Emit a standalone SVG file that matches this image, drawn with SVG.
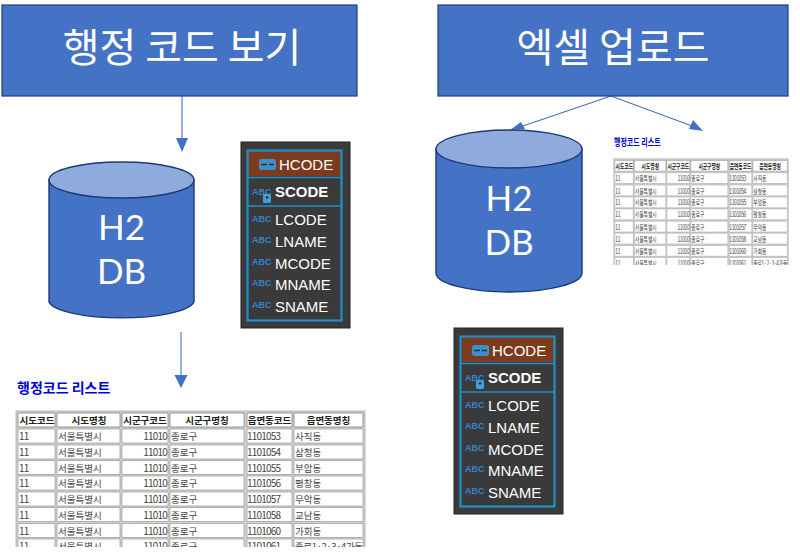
<svg xmlns="http://www.w3.org/2000/svg" width="800" height="556" viewBox="0 0 800 556">
<defs>
<style>
text{font-family:"Noto Sans CJK KR","Noto Sans",sans-serif}
.box{fill:#4472c4;stroke:#1f3f7f;stroke-width:1.2}
.bt{fill:#fff;font-size:40px;text-anchor:middle}
.cy{fill:#4472c4;stroke:#1a3a78;stroke-width:1.4}
.cyt{fill:#8faadc;stroke:#1a3a78;stroke-width:1.4}
.ct{fill:#fff;font-size:35px;text-anchor:middle;font-family:Lato,sans-serif}
.p{fill:#3a3a3a;stroke:#222;stroke-width:1}
.pb{fill:none;stroke:#1f8fc8;stroke-width:2.2}
.pl{stroke:#1f8fc8;stroke-width:1.6}
.pt{fill:#fff;font-size:15px;font-family:"Liberation Sans",sans-serif}
.ptb{fill:#fff;font-size:15px;font-weight:bold;font-family:"Liberation Sans",sans-serif}
.abc{fill:#2f85cc;font-size:9px;font-weight:bold;font-family:"Liberation Sans",sans-serif}
.ttl{fill:#0000dd;font-size:14px;font-weight:bold}
.tb{fill:#d2d2d2;stroke:#aaa;stroke-width:.8}
.h{fill:#fff;stroke:#777;stroke-width:.7}
.c{fill:#fff;stroke:#999;stroke-width:.7}
.th{font-size:9.5px;font-weight:bold;fill:#222;text-anchor:middle}
.td{font-size:9.5px;fill:#444}
.m{font-size:10px;fill:#444;letter-spacing:-.8px}
.n{font-size:10px;fill:#444;text-anchor:end;letter-spacing:-.8px}
.con{stroke:#4472c4;stroke-width:1.1;fill:none}
.hd{fill:#3f72c0}
</style>
<clipPath id="ct1"><rect x="0" y="405" width="380" height="142"/></clipPath>
<clipPath id="ct2"><rect x="605" y="155" width="190" height="110"/></clipPath>
</defs>
<rect width="800" height="556" fill="#fff"/>

<g id="connectors">
<path class="con" d="M182 96V140"/><path class="hd" d="M176 138H188L182 152Z"/>
<path class="con" d="M181 332V376"/><path class="hd" d="M174.500 375H187.500L181 388Z"/>
<path class="con" d="M611 96L520 127"/><path class="hd" d="M510 130L521 122L525 129Z"/>
<path class="con" d="M611 96L692 126"/><path class="hd" d="M703 131L689 129L693 120Z"/>
</g>

<g id="box-view"><rect class="box" x="2" y="5" width="355" height="91"/><text class="bt" x="182" y="62">행정 코드 보기</text></g>
<g id="box-upload"><rect class="box" x="438" y="5" width="350" height="91"/><text class="bt" x="613" y="62">엑셀 업로드</text></g>

<g id="db-left">
<path class="cy" d="M49 180V302A73 18 0 0 0 194 302V180Z"/>
<ellipse class="cyt" cx="121.500" cy="180" rx="72.500" ry="18"/>
<text class="ct" x="121.500" y="240">H2</text><text class="ct" x="121.500" y="284">DB</text>
</g>
<g id="db-right">
<path class="cy" d="M436 149V273A73 19 0 0 0 582 273V149Z"/>
<ellipse class="cyt" cx="509" cy="149" rx="73" ry="19"/>
<text class="ct" x="509" y="211">H2</text><text class="ct" x="509" y="255">DB</text>
</g>

<g id="schema-left">
<rect class="p" x="241" y="142" width="109" height="186"/>
<rect x="248" y="151" width="93" height="25" fill="#7a3b1e"/>
<rect class="pb" x="247.500" y="150.500" width="94" height="170"/>
<path class="pl" d="M248 177.500H341M248 206H341"/>
<rect x="259" y="159" width="17" height="11" rx="2.500" fill="#3f8fc8"/><path d="M261 164.500H267M269 164.500H274" stroke="#234" stroke-width="1.500"/>
<text class="pt" x="279" y="170">HCODE</text>
<text class="abc" x="252" y="195">ABC</text><rect x="263" y="194" width="8" height="9" rx="1.500" fill="#3f9fd8"/><circle cx="267" cy="197.500" r="1.200" fill="#123"/>
<text class="ptb" x="275" y="197">SCODE</text>
<text class="abc" x="252" y="222">ABC</text><text class="pt" x="275" y="225">LCODE</text>
<text class="abc" x="252" y="243">ABC</text><text class="pt" x="275" y="247">LNAME</text>
<text class="abc" x="252" y="265">ABC</text><text class="pt" x="275" y="269">MCODE</text>
<text class="abc" x="252" y="286">ABC</text><text class="pt" x="275" y="290">MNAME</text>
<text class="abc" x="252" y="308">ABC</text><text class="pt" x="275" y="312">SNAME</text>
</g>

<g id="schema-right" transform="translate(213 186)">
<rect class="p" x="241" y="142" width="109" height="186"/>
<rect x="248" y="151" width="93" height="25" fill="#7a3b1e"/>
<rect class="pb" x="247.500" y="150.500" width="94" height="170"/>
<path class="pl" d="M248 177.500H341M248 206H341"/>
<rect x="259" y="159" width="17" height="11" rx="2.500" fill="#3f8fc8"/><path d="M261 164.500H267M269 164.500H274" stroke="#234" stroke-width="1.500"/>
<text class="pt" x="279" y="170">HCODE</text>
<text class="abc" x="252" y="195">ABC</text><rect x="263" y="194" width="8" height="9" rx="1.500" fill="#3f9fd8"/><circle cx="267" cy="197.500" r="1.200" fill="#123"/>
<text class="ptb" x="275" y="197">SCODE</text>
<text class="abc" x="252" y="222">ABC</text><text class="pt" x="275" y="225">LCODE</text>
<text class="abc" x="252" y="243">ABC</text><text class="pt" x="275" y="247">LNAME</text>
<text class="abc" x="252" y="265">ABC</text><text class="pt" x="275" y="269">MCODE</text>
<text class="abc" x="252" y="286">ABC</text><text class="pt" x="275" y="290">MNAME</text>
<text class="abc" x="252" y="308">ABC</text><text class="pt" x="275" y="312">SNAME</text>
</g>

<g id="title-left"><text class="ttl" x="17" y="393">행정코드 리스트</text></g>
<g id="table-left" clip-path="url(#ct1)">
<rect class="tb" x="16" y="411" width="349" height="150"/>
<path class="h" d="M18 413H55V427H18ZM57 413H120V427H57ZM122 413H168V427H122ZM170 413H244V427H170ZM247 413H292V427H247ZM294 413H363V427H294Z"/>
<path class="c" d="M18 429H55V443H18ZM57 429H120V443H57ZM122 429H168V443H122ZM170 429H244V443H170ZM247 429H292V443H247ZM294 429H363V443H294Z
M18 445H55V459H18ZM57 445H120V459H57ZM122 445H168V459H122ZM170 445H244V459H170ZM247 445H292V459H247ZM294 445H363V459H294Z
M18 460.500H55V474.500H18ZM57 460.500H120V474.500H57ZM122 460.500H168V474.500H122ZM170 460.500H244V474.500H170ZM247 460.500H292V474.500H247ZM294 460.500H363V474.500H294Z
M18 476H55V490H18ZM57 476H120V490H57ZM122 476H168V490H122ZM170 476H244V490H170ZM247 476H292V490H247ZM294 476H363V490H294Z
M18 492H55V506H18ZM57 492H120V506H57ZM122 492H168V506H122ZM170 492H244V506H170ZM247 492H292V506H247ZM294 492H363V506H294Z
M18 507.500H55V521.500H18ZM57 507.500H120V521.500H57ZM122 507.500H168V521.500H122ZM170 507.500H244V521.500H170ZM247 507.500H292V521.500H247ZM294 507.500H363V521.500H294Z
M18 523.500H55V537.500H18ZM57 523.500H120V537.500H57ZM122 523.500H168V537.500H122ZM170 523.500H244V537.500H170ZM247 523.500H292V537.500H247ZM294 523.500H363V537.500H294Z
M18 539H55V553H18ZM57 539H120V553H57ZM122 539H168V553H122ZM170 539H244V553H170ZM247 539H292V553H247ZM294 539H363V553H294Z"/>
<text class="th" x="37" y="424">시도코드</text><text class="th" x="89" y="424">시도명칭</text><text class="th" x="145" y="424">시군구코드</text><text class="th" x="207" y="424">시군구명칭</text><text class="th" x="269.500" y="424">읍면동코드</text><text class="th" x="328.500" y="424">읍면동명칭</text>
<text class="m" x="19" y="440">11</text><text class="td" x="58" y="440">서울특별시</text><text class="n" x="167" y="440">11010</text><text class="td" x="171" y="440">종로구</text><text class="m" x="247" y="440">1101053</text><text class="td" x="295" y="440">사직동</text>
<text class="m" x="19" y="456">11</text><text class="td" x="58" y="456">서울특별시</text><text class="n" x="167" y="456">11010</text><text class="td" x="171" y="456">종로구</text><text class="m" x="247" y="456">1101054</text><text class="td" x="295" y="456">삼청동</text>
<text class="m" x="19" y="471.500">11</text><text class="td" x="58" y="471.500">서울특별시</text><text class="n" x="167" y="471.500">11010</text><text class="td" x="171" y="471.500">종로구</text><text class="m" x="247" y="471.500">1101055</text><text class="td" x="295" y="471.500">부암동</text>
<text class="m" x="19" y="487">11</text><text class="td" x="58" y="487">서울특별시</text><text class="n" x="167" y="487">11010</text><text class="td" x="171" y="487">종로구</text><text class="m" x="247" y="487">1101056</text><text class="td" x="295" y="487">평창동</text>
<text class="m" x="19" y="503">11</text><text class="td" x="58" y="503">서울특별시</text><text class="n" x="167" y="503">11010</text><text class="td" x="171" y="503">종로구</text><text class="m" x="247" y="503">1101057</text><text class="td" x="295" y="503">무악동</text>
<text class="m" x="19" y="518.500">11</text><text class="td" x="58" y="518.500">서울특별시</text><text class="n" x="167" y="518.500">11010</text><text class="td" x="171" y="518.500">종로구</text><text class="m" x="247" y="518.500">1101058</text><text class="td" x="295" y="518.500">교남동</text>
<text class="m" x="19" y="534.500">11</text><text class="td" x="58" y="534.500">서울특별시</text><text class="n" x="167" y="534.500">11010</text><text class="td" x="171" y="534.500">종로구</text><text class="m" x="247" y="534.500">1101060</text><text class="td" x="295" y="534.500">가회동</text>
<text class="m" x="19" y="550">11</text><text class="td" x="58" y="550">서울특별시</text><text class="n" x="167" y="550">11010</text><text class="td" x="171" y="550">종로구</text><text class="m" x="247" y="550">1101061</text><text class="td" x="295" y="550" letter-spacing="-.4">종로1·2·3·4가동</text>
</g>

<g id="title-right"><text class="ttl" transform="translate(614 146) scale(.5 .72)" x="0" y="0">행정코드 리스트</text></g>
<g clip-path="url(#ct2)"><g id="table-right" transform="translate(605.800 -157.600) scale(.5 .77)">
<rect class="tb" x="16" y="411" width="349" height="150"/>
<path class="h" d="M18 413H55V427H18ZM57 413H120V427H57ZM122 413H168V427H122ZM170 413H244V427H170ZM247 413H292V427H247ZM294 413H363V427H294Z"/>
<path class="c" d="M18 429H55V443H18ZM57 429H120V443H57ZM122 429H168V443H122ZM170 429H244V443H170ZM247 429H292V443H247ZM294 429H363V443H294Z
M18 445H55V459H18ZM57 445H120V459H57ZM122 445H168V459H122ZM170 445H244V459H170ZM247 445H292V459H247ZM294 445H363V459H294Z
M18 460.500H55V474.500H18ZM57 460.500H120V474.500H57ZM122 460.500H168V474.500H122ZM170 460.500H244V474.500H170ZM247 460.500H292V474.500H247ZM294 460.500H363V474.500H294Z
M18 476H55V490H18ZM57 476H120V490H57ZM122 476H168V490H122ZM170 476H244V490H170ZM247 476H292V490H247ZM294 476H363V490H294Z
M18 492H55V506H18ZM57 492H120V506H57ZM122 492H168V506H122ZM170 492H244V506H170ZM247 492H292V506H247ZM294 492H363V506H294Z
M18 507.500H55V521.500H18ZM57 507.500H120V521.500H57ZM122 507.500H168V521.500H122ZM170 507.500H244V521.500H170ZM247 507.500H292V521.500H247ZM294 507.500H363V521.500H294Z
M18 523.500H55V537.500H18ZM57 523.500H120V537.500H57ZM122 523.500H168V537.500H122ZM170 523.500H244V537.500H170ZM247 523.500H292V537.500H247ZM294 523.500H363V537.500H294Z
M18 539H55V553H18ZM57 539H120V553H57ZM122 539H168V553H122ZM170 539H244V553H170ZM247 539H292V553H247ZM294 539H363V553H294Z"/>
<text class="th" x="37" y="424">시도코드</text><text class="th" x="89" y="424">시도명칭</text><text class="th" x="145" y="424">시군구코드</text><text class="th" x="207" y="424">시군구명칭</text><text class="th" x="269.500" y="424">읍면동코드</text><text class="th" x="328.500" y="424">읍면동명칭</text>
<text class="m" x="19" y="440">11</text><text class="td" x="58" y="440">서울특별시</text><text class="n" x="167" y="440">11010</text><text class="td" x="171" y="440">종로구</text><text class="m" x="247" y="440">1101053</text><text class="td" x="295" y="440">사직동</text>
<text class="m" x="19" y="456">11</text><text class="td" x="58" y="456">서울특별시</text><text class="n" x="167" y="456">11010</text><text class="td" x="171" y="456">종로구</text><text class="m" x="247" y="456">1101054</text><text class="td" x="295" y="456">삼청동</text>
<text class="m" x="19" y="471.500">11</text><text class="td" x="58" y="471.500">서울특별시</text><text class="n" x="167" y="471.500">11010</text><text class="td" x="171" y="471.500">종로구</text><text class="m" x="247" y="471.500">1101055</text><text class="td" x="295" y="471.500">부암동</text>
<text class="m" x="19" y="487">11</text><text class="td" x="58" y="487">서울특별시</text><text class="n" x="167" y="487">11010</text><text class="td" x="171" y="487">종로구</text><text class="m" x="247" y="487">1101056</text><text class="td" x="295" y="487">평창동</text>
<text class="m" x="19" y="503">11</text><text class="td" x="58" y="503">서울특별시</text><text class="n" x="167" y="503">11010</text><text class="td" x="171" y="503">종로구</text><text class="m" x="247" y="503">1101057</text><text class="td" x="295" y="503">무악동</text>
<text class="m" x="19" y="518.500">11</text><text class="td" x="58" y="518.500">서울특별시</text><text class="n" x="167" y="518.500">11010</text><text class="td" x="171" y="518.500">종로구</text><text class="m" x="247" y="518.500">1101058</text><text class="td" x="295" y="518.500">교남동</text>
<text class="m" x="19" y="534.500">11</text><text class="td" x="58" y="534.500">서울특별시</text><text class="n" x="167" y="534.500">11010</text><text class="td" x="171" y="534.500">종로구</text><text class="m" x="247" y="534.500">1101060</text><text class="td" x="295" y="534.500">가회동</text>
<text class="m" x="19" y="550">11</text><text class="td" x="58" y="550">서울특별시</text><text class="n" x="167" y="550">11010</text><text class="td" x="171" y="550">종로구</text><text class="m" x="247" y="550">1101061</text><text class="td" x="295" y="550" letter-spacing="-.4">종로1·2·3·4가동</text>
</g></g>
</svg>
